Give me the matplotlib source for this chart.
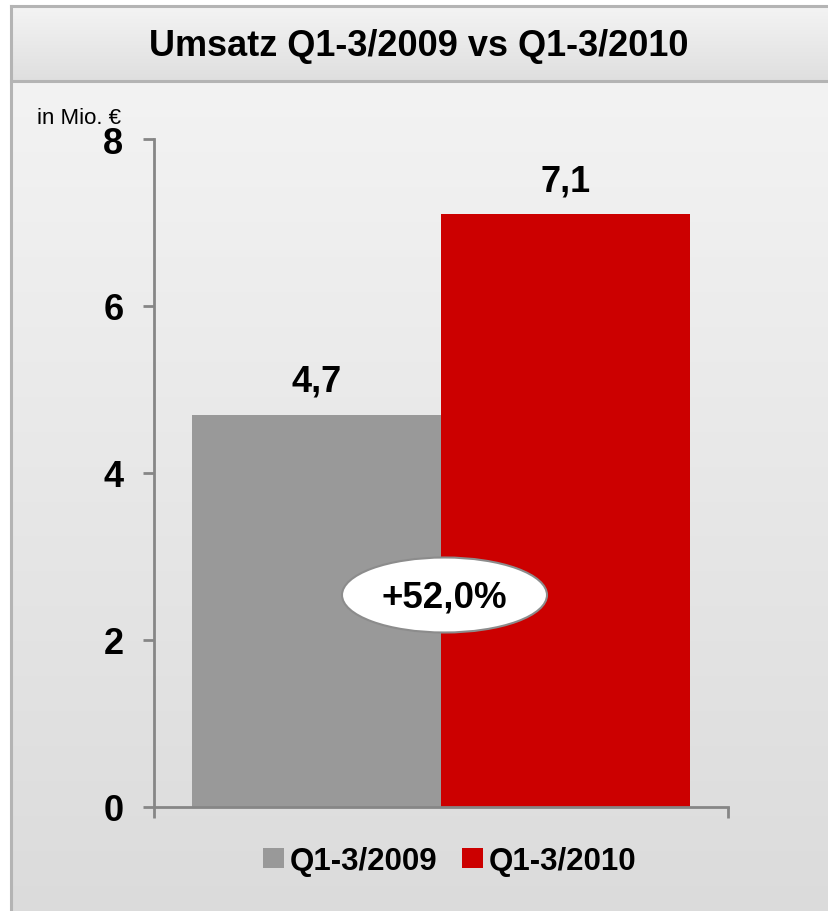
import numpy as np
import matplotlib
matplotlib.use("Agg")
import matplotlib.pyplot as plt
from matplotlib.patches import Ellipse

plt.rcParams['font.family'] = ['Liberation Sans', 'DejaVu Sans']

# data
categories = ["Q1-3/2009", "Q1-3/2010"]
values = [4.7, 7.1]
bar_colors = ["#999999", "#cc0000"]
y_ticks = [0, 2, 4, 6, 8]
title = "Umsatz Q1-3/2009 vs Q1-3/2010"
unit_label = "in Mio. €"
growth_label = "+52,0%"

W, H = 829, 912
fig = plt.figure(figsize=(W / 100, H / 100), dpi=100)
fig.patch.set_facecolor("white")

# background panel: white margin, title strip and body with vertical gradients
shade = np.ones(H)
shade[7:82] = np.linspace(0.955, 0.875, 75)
shade[82:] = np.linspace(0.953, 0.86, H - 82)
img = np.ones((H, W, 3))
img[7:, 11:, :] = shade[7:, None, None]
bg = fig.add_axes([0, 0, 1, 1], zorder=-10)
bg.imshow(img, extent=(0, W, H, 0), interpolation="nearest", aspect="auto")
bg.plot([11, 11], [7, H], color="#b4b4b4", lw=2.2)
bg.plot([11, W], [7, 7], color="#b4b4b4", lw=2.2)
bg.plot([11, W], [82, 82], color="#b4b4b4", lw=2.2)
bg.set_xlim(0, W)
bg.set_ylim(H, 0)
bg.axis("off")

fig.text(0.505, 1 - 47 / H, title, ha="center", va="center",
         fontsize=26, fontweight="bold")
fig.text(37 / W, 1 - 118 / H, unit_label, ha="left", va="center", fontsize=16)

# main axes
ax = fig.add_axes([154 / W, 1 - 808 / H, (728 - 154) / W, (808 - 140) / H])
ax.patch.set_alpha(0)
bar_w = 0.434
xs = [-bar_w, 0]
bars = ax.bar(xs, values, width=bar_w, align="edge", color=bar_colors,
              label=categories, zorder=2)
for b, v in zip(bars, values):
    ax.annotate(f"{v:.1f}".replace(".", ","), (b.get_x() + b.get_width() / 2, v),
                xytext=(0, 24), textcoords="offset points", ha="center",
                va="center", fontsize=26, fontweight="bold")

ax.set_xlim(-0.5, 0.5)
ax.set_ylim(0, 8)
ax.set_yticks(y_ticks)
ax.set_yticklabels([str(t) for t in y_ticks], fontsize=26, fontweight="bold")
ax.set_xticks([-0.5, 0.5])
ax.set_xticklabels([])
for s in ["top", "right"]:
    ax.spines[s].set_visible(False)
for s in ["left", "bottom"]:
    ax.spines[s].set_color("#868686")
    ax.spines[s].set_linewidth(2)
    ax.spines[s].set_zorder(3)
ax.tick_params(axis="y", length=8, width=2, color="#868686", pad=14)
ax.tick_params(axis="x", length=8, width=2, color="#868686")

# growth ellipse
ov = fig.add_axes([0, 0, 1, 1], zorder=5)
ov.set_xlim(0, W)
ov.set_ylim(H, 0)
ov.axis("off")
ov.add_patch(Ellipse((444.5, 596), 205, 75, fc="white", ec="#8c8c8c", lw=1.5))
ov.text(444.5, 598, growth_label, ha="center", va="center",
        fontsize=26.5, fontweight="bold")

fig.legend(handles=bars, labels=categories, loc="center",
           bbox_to_anchor=(450 / W, 1 - 862 / H), ncol=2, frameon=False,
           prop={"size": 22.5, "weight": "bold"}, handlelength=0.65,
           handleheight=0.65, handletextpad=0.2, columnspacing=0.8)

fig.savefig("out.png", dpi=100)
